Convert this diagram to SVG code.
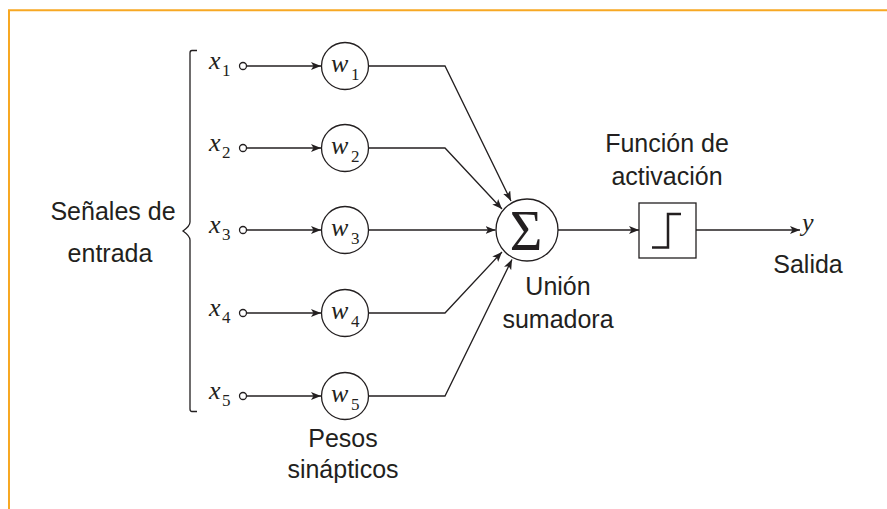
<svg xmlns="http://www.w3.org/2000/svg" width="887" height="509" viewBox="0 0 887 509">
<style>
.ln{fill:none;stroke:#231f20;stroke-width:1.3}
.nd{fill:#fff;stroke:#231f20;stroke-width:1.3}
.lbl{font-family:"Liberation Sans",Arial,sans-serif;font-size:25px;fill:#231f20;text-anchor:middle}
.mi{font-family:"Liberation Serif","Times New Roman",serif;font-style:italic;font-size:26px;fill:#231f20}
.sub{font-family:"Liberation Serif","Times New Roman",serif;font-size:17px;fill:#231f20}
</style>
<defs>
<marker id="ah" viewBox="0 0 10 8" refX="10" refY="4" markerWidth="10" markerHeight="8" markerUnits="userSpaceOnUse" orient="auto">
<path d="M0,0 L10,4 L0,8 L2.5,4 Z" fill="#231f20"/>
</marker>
</defs>
<rect width="887" height="509" fill="#fff"/>
<path d="M9,509 V10.3 H887" fill="none" stroke="#F7A823" stroke-width="2"/>

<g id="brace">
<path class="ln" d="M197,50.5 H192 Q190,50.5 190,53 V222 Q190,226 183,231 Q190,236 190,240 V409 Q190,411.5 192,411.5 H197"/>
</g>
<g id="label-entrada">
<text class="lbl" x="113" y="220">Señales de</text>
<text class="lbl" x="110" y="262">entrada</text>
</g>

<g id="connectors">
<line class="ln" x1="246.5" y1="66" x2="321" y2="66" marker-end="url(#ah)"/>
<line class="ln" x1="246.5" y1="148" x2="321" y2="148" marker-end="url(#ah)"/>
<line class="ln" x1="246.5" y1="230" x2="321" y2="230" marker-end="url(#ah)"/>
<line class="ln" x1="246.5" y1="313" x2="321" y2="313" marker-end="url(#ah)"/>
<line class="ln" x1="246.5" y1="396" x2="321" y2="396" marker-end="url(#ah)"/>
<polyline class="ln" points="369,66 445,66 511,201" marker-end="url(#ah)"/>
<polyline class="ln" points="369,148 445,148 502,209" marker-end="url(#ah)"/>
<line class="ln" x1="369" y1="230" x2="495.5" y2="230" marker-end="url(#ah)"/>
<polyline class="ln" points="369,313 445,313 502,252" marker-end="url(#ah)"/>
<polyline class="ln" points="369,396 445,396 512,259.5" marker-end="url(#ah)"/>
<line class="ln" x1="558" y1="230" x2="639" y2="230" marker-end="url(#ah)"/>
<line class="ln" x1="696" y1="230" x2="800" y2="230" marker-end="url(#ah)"/>
</g>

<g id="x1"><circle class="nd" cx="243" cy="66" r="3.5"/><text class="mi" x="209" y="68.5">x</text><text class="sub" x="222" y="76">1</text></g>
<g id="x2"><circle class="nd" cx="243" cy="148" r="3.5"/><text class="mi" x="209" y="150.5">x</text><text class="sub" x="222" y="158">2</text></g>
<g id="x3"><circle class="nd" cx="243" cy="230" r="3.5"/><text class="mi" x="209" y="232.5">x</text><text class="sub" x="222" y="240">3</text></g>
<g id="x4"><circle class="nd" cx="243" cy="313" r="3.5"/><text class="mi" x="209" y="315.5">x</text><text class="sub" x="222" y="323">4</text></g>
<g id="x5"><circle class="nd" cx="243" cy="396" r="3.5"/><text class="mi" x="209" y="398.5">x</text><text class="sub" x="222" y="406">5</text></g>

<g id="w1"><circle class="nd" cx="345" cy="66" r="23.5"/><text class="mi" x="331" y="72">w</text><text class="sub" x="351" y="80">1</text></g>
<g id="w2"><circle class="nd" cx="345" cy="148" r="23.5"/><text class="mi" x="331" y="154">w</text><text class="sub" x="351" y="162">2</text></g>
<g id="w3"><circle class="nd" cx="345" cy="230" r="23.5"/><text class="mi" x="331" y="236">w</text><text class="sub" x="351" y="244">3</text></g>
<g id="w4"><circle class="nd" cx="345" cy="313" r="23.5"/><text class="mi" x="331" y="319">w</text><text class="sub" x="351" y="327">4</text></g>
<g id="w5"><circle class="nd" cx="345" cy="396" r="23.5"/><text class="mi" x="331" y="402">w</text><text class="sub" x="351" y="410">5</text></g>

<g id="label-pesos">
<text class="lbl" x="343" y="447">Pesos</text>
<text class="lbl" x="343" y="478">sinápticos</text>
</g>

<g id="sum">
<circle class="nd" cx="527" cy="230" r="31"/>
<text x="526" y="250" font-family="'Liberation Serif','Times New Roman',serif" font-size="56" fill="#231f20" text-anchor="middle">Σ</text>
<text class="lbl" x="558" y="295">Unión</text>
<text class="lbl" x="558" y="328">sumadora</text>
</g>

<g id="activation">
<rect class="nd" x="639" y="203" width="57" height="55"/>
<polyline points="652,247.5 668,247.5 668,214 681,214" fill="none" stroke="#231f20" stroke-width="2.5"/>
<text class="lbl" x="667" y="152">Función de</text>
<text class="lbl" x="667" y="185">activación</text>
</g>

<g id="output">
<text class="mi" x="802" y="231">y</text>
<text class="lbl" x="808" y="273">Salida</text>
</g>
</svg>
